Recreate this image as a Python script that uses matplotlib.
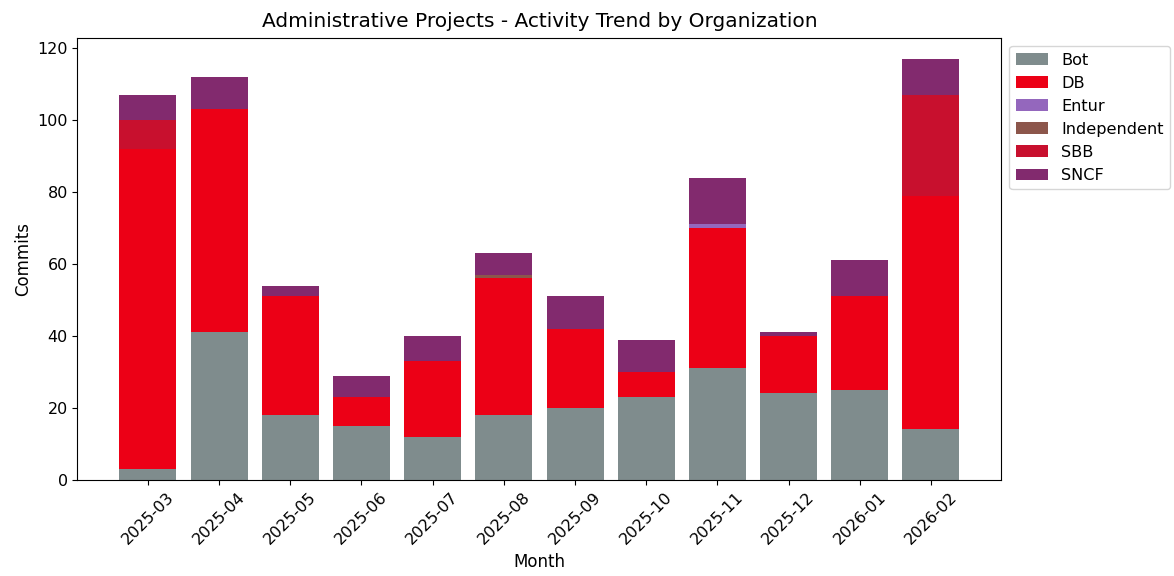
import matplotlib
matplotlib.use("Agg")
from matplotlib import pyplot as plt
import numpy as np

# Monthly commits per organization
months = ["2025-03", "2025-04", "2025-05", "2025-06", "2025-07", "2025-08",
          "2025-09", "2025-10", "2025-11", "2025-12", "2026-01", "2026-02"]
bot = [3, 41, 18, 15, 12, 18, 20, 23, 31, 24, 25, 14]
db = [89, 62, 33, 8, 21, 38, 22, 7, 39, 16, 26, 65]
entur = [0, 0, 0, 0, 0, 0, 0, 0, 1, 0, 0, 0]
independent = [0, 0, 0, 0, 0, 1, 0, 0, 0, 0, 0, 0]
sbb = [8, 0, 0, 0, 0, 0, 0, 0, 0, 0, 0, 28]
sncf = [7, 9, 3, 6, 7, 6, 9, 9, 13, 1, 10, 10]

orgs = ["Bot", "DB", "Entur", "Independent", "SBB", "SNCF"]
series = [bot, db, entur, independent, sbb, sncf]
colors = ["#7f8c8d", "#ec0016", "#9467bd", "#8c564b", "#c8102e", "#822a6e"]

fig, ax = plt.subplots(figsize=(11.74, 5.76), dpi=100)
fig.subplots_adjust(left=0.066, right=0.853, top=0.934, bottom=0.167)

bottom = np.zeros(len(months))
for name, vals, col in zip(orgs, series, colors):
    ax.bar(months, vals, bottom=bottom, label=name, color=col, width=0.8)
    bottom += np.array(vals)

ax.set_title("Administrative Projects - Activity Trend by Organization", fontsize=14.5, pad=8)
ax.set_xlabel("Month", fontsize=12)
ax.set_ylabel("Commits", fontsize=12)
ax.tick_params(axis="both", labelsize=11.5)
plt.xticks(rotation=45)
ax.legend(loc="upper left", bbox_to_anchor=(1.0, 1.0), fontsize=11.6)

fig.savefig("out.png", dpi=100)
